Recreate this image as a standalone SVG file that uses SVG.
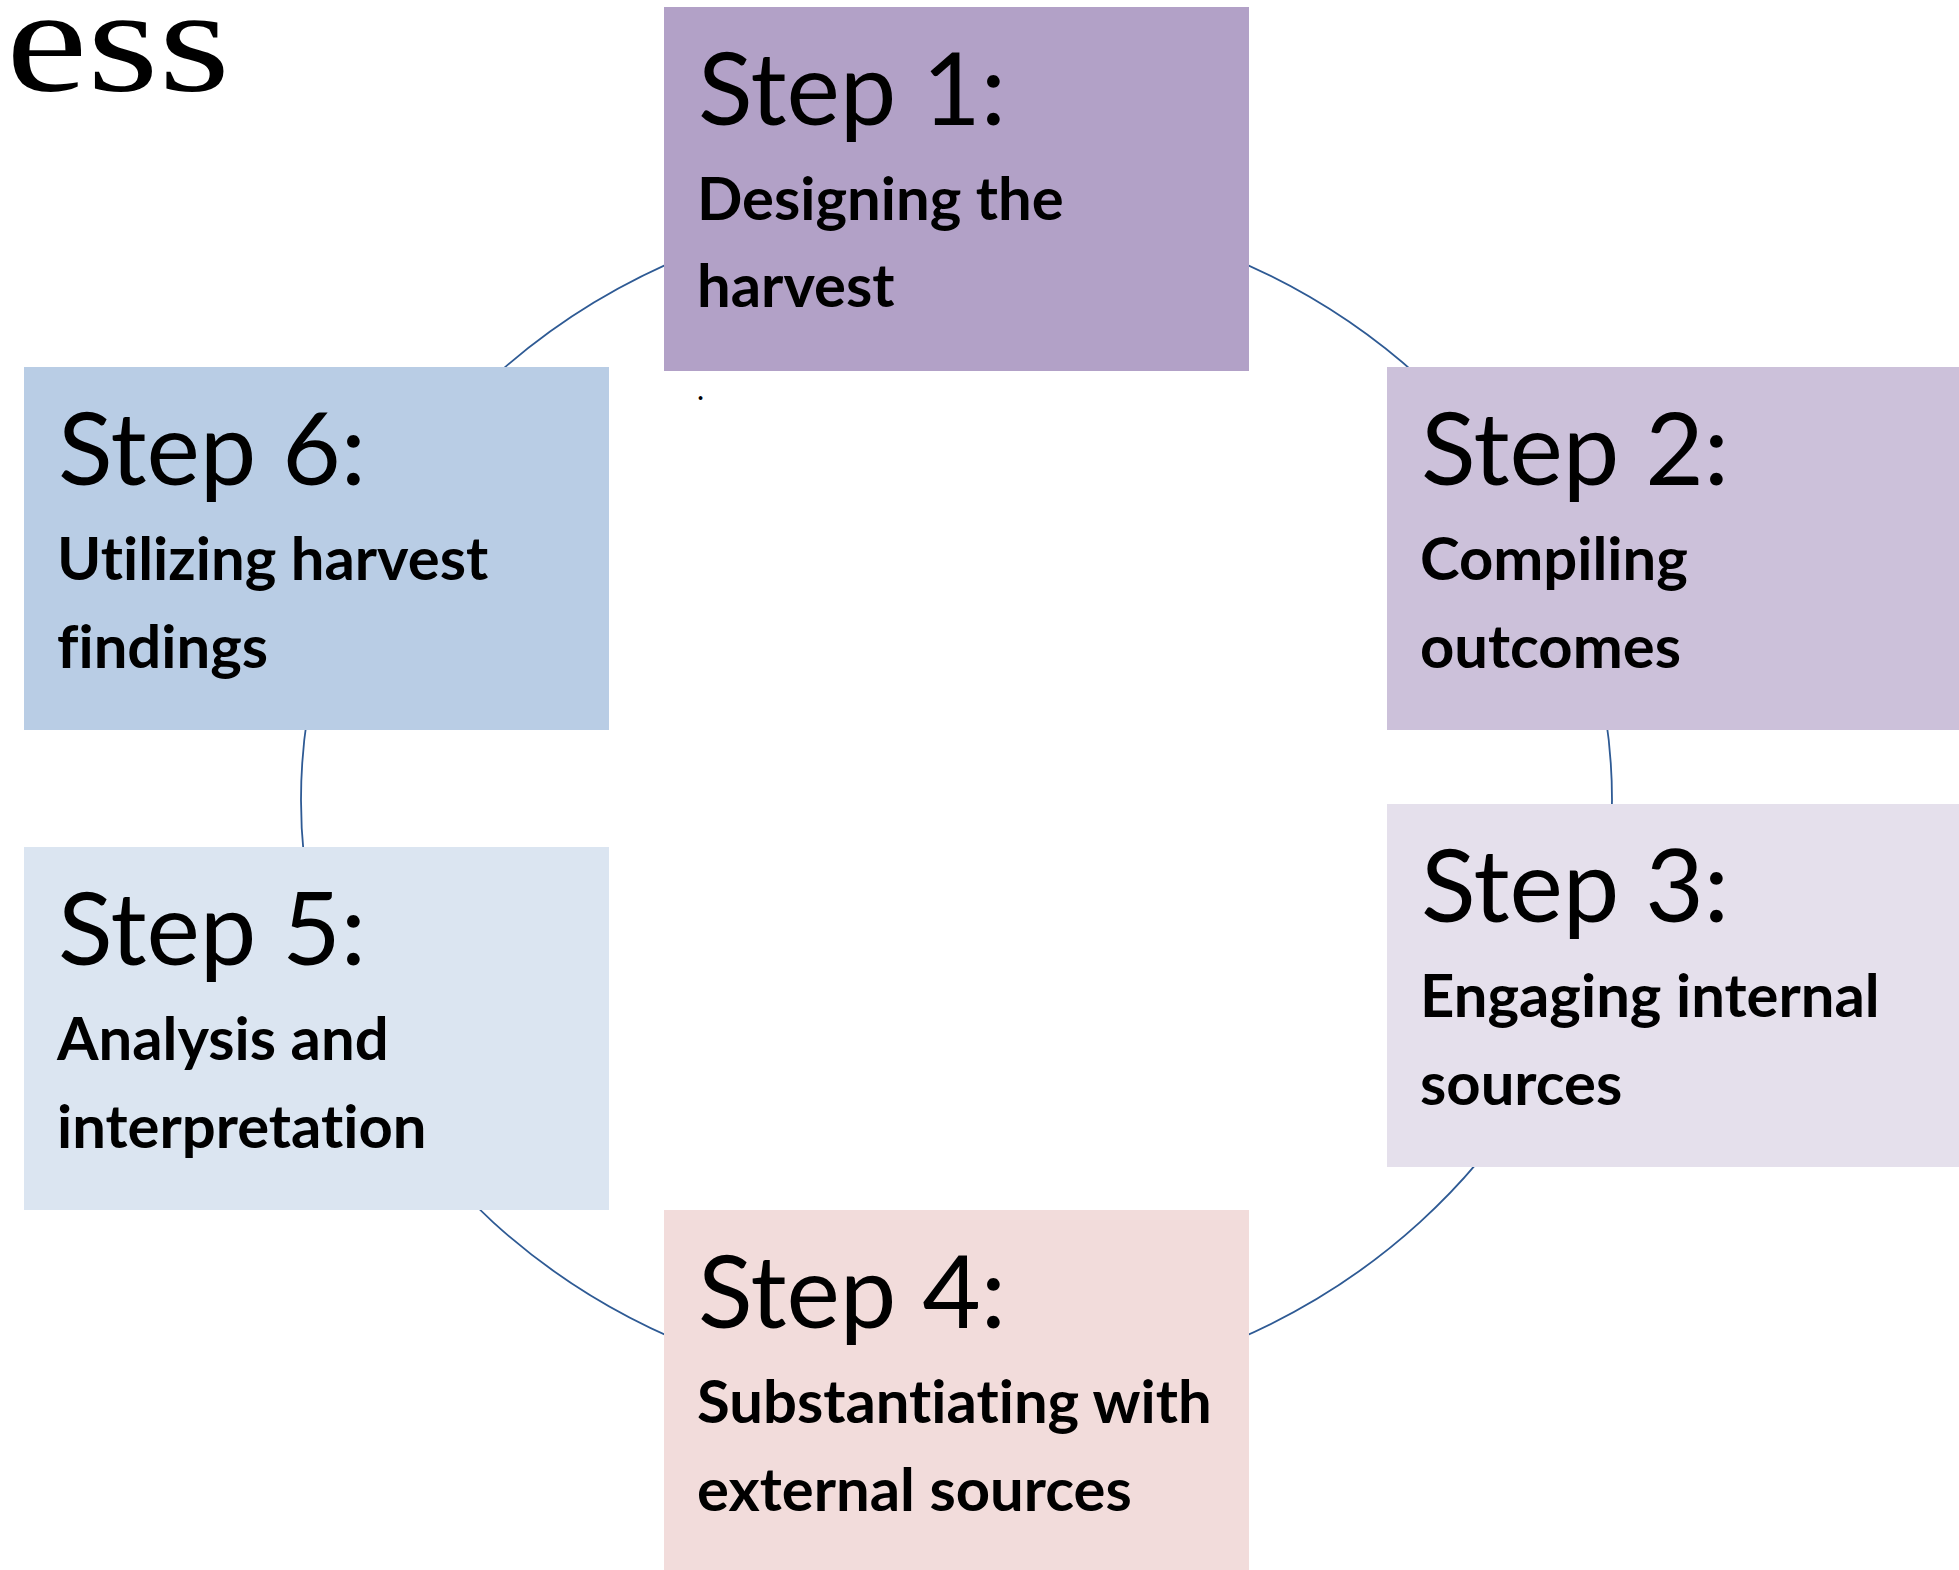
<svg xmlns="http://www.w3.org/2000/svg" width="1959" height="1570" viewBox="0 0 1959 1570">
  <style>
    .heading { font-family: Lato, "Open Sans", sans-serif; font-size: 101px; fill: #000; font-variant-ligatures: none; }
    .label { font-family: Lato, "Open Sans", sans-serif; font-size: 59.8px; font-weight: bold; fill: #000; font-variant-ligatures: none; }
    .cycle { fill: none; stroke: #2E5A94; stroke-width: 1.8; }
    .title { font-family: "Liberation Serif", Tinos, "Times New Roman", serif; font-size: 148px; fill: #000; }
  </style>

  <rect x="0" y="0" width="1959" height="1570" fill="#ffffff"/>

  <!-- page title, running off the left edge -->
  <text class="title" x="6" y="91" textLength="224" lengthAdjust="spacingAndGlyphs">ess</text>

  <!-- cycle ring linking the six steps -->
  <g id="connectors">
    <ellipse class="cycle" cx="956.5" cy="800" rx="655.5" ry="597"/>
  </g>

  <g id="step1">
    <rect x="664" y="7" width="585" height="364" fill="#B2A1C7"/>
    <text class="heading" x="698" y="125">Step 1:</text>
    <text class="label" x="697" y="220">Designing the</text>
    <text class="label" x="697" y="307">harvest</text>
  </g>
  <text x="697" y="400" font-family="Lato, sans-serif" font-size="30" fill="#000">.</text>

  <g id="step2">
    <rect x="1387" y="367" width="572" height="363" fill="#CCC1DA"/>
    <text class="heading" x="1421" y="485">Step 2:</text>
    <text class="label" x="1420" y="580">Compiling</text>
    <text class="label" x="1420" y="668">outcomes</text>
  </g>

  <g id="step3">
    <rect x="1387" y="804" width="572" height="363" fill="#E5E0EC"/>
    <text class="heading" x="1421" y="922">Step 3:</text>
    <text class="label" x="1420" y="1017">Engaging internal</text>
    <text class="label" x="1420" y="1105">sources</text>
  </g>

  <g id="step4">
    <rect x="664" y="1210" width="585" height="364" fill="#F2DCDB"/>
    <text class="heading" x="698" y="1328">Step 4:</text>
    <text class="label" x="697" y="1423">Substantiating with</text>
    <text class="label" x="697" y="1511">external sources</text>
  </g>

  <g id="step5">
    <rect x="24" y="847" width="585" height="363" fill="#DBE5F1"/>
    <text class="heading" x="58" y="965">Step 5:</text>
    <text class="label" x="57" y="1060">Analysis and</text>
    <text class="label" x="57" y="1148">interpretation</text>
  </g>

  <g id="step6">
    <rect x="24" y="367" width="585" height="363" fill="#B9CDE5"/>
    <text class="heading" x="58" y="485">Step 6:</text>
    <text class="label" x="57" y="580">Utilizing harvest</text>
    <text class="label" x="57" y="668">findings</text>
  </g>
</svg>
